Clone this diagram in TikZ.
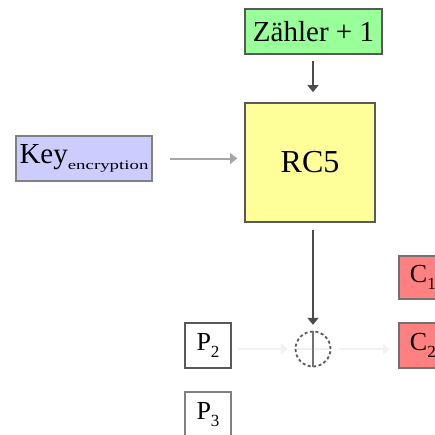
\documentclass[tikz,border=0pt]{standalone}
\usepackage{fontspec}
\setmainfont{Liberation Serif}
\usetikzlibrary{arrows.meta}
\definecolor{zgreen}{HTML}{99FF99}
\definecolor{ryellow}{HTML}{FFFF99}
\definecolor{klav}{HTML}{CCCCFF}
\definecolor{cred}{HTML}{FF8080}
\tikzset{
  box/.style={draw=black!65, line width=1.8pt, rectangle, inner sep=0pt, font=\fontsize{26}{26}\selectfont},
  tip/.style={-{Triangle[width=11pt,length=7pt]}, line width=2pt},
}
\begin{document}
\begin{tikzpicture}[x=1pt,y=-1pt]
\useasboundingbox[fill=white] (0,0) rectangle (435,434);
\node[box, fill=zgreen, minimum width=137pt, minimum height=45pt, font=\fontsize{29}{29}\selectfont] (z) at (313.5,31.5) {Zähler + 1};
\node[box, fill=ryellow, minimum width=130pt, minimum height=119pt, font=\fontsize{32}{32}\selectfont] (rc) at (310,162.5) {RC5};
\node[box, fill=klav, draw=black!50, minimum width=136pt, minimum height=45pt, font=\fontsize{29}{29}\selectfont] (key) at (84,158.5) {Key\raisebox{-6pt}{\scalebox{1.45}[1]{\fontsize{13}{13}\selectfont encryption}}};
\node[box, fill=white, minimum width=46pt, minimum height=45pt] (p2) at (208,345.5) {P\raisebox{-7pt}{\fontsize{17}{17}\selectfont 2}};
\node[box, fill=white, draw=black!50, minimum width=46pt, minimum height=45pt] (p3) at (208,414.5) {P\raisebox{-7pt}{\fontsize{17}{17}\selectfont 3}};
\node[box, fill=cred, draw=black!55, minimum width=46pt, minimum height=43pt, anchor=west] (c1) at (398,277.5) {\hspace*{6pt}C\raisebox{-7pt}{\fontsize{17}{17}\selectfont 1}\hspace*{4pt}};
\node[box, fill=cred, draw=black!55, minimum width=46pt, minimum height=45pt, anchor=west] (c2) at (398,345.5) {\hspace*{6pt}C\raisebox{-7pt}{\fontsize{17}{17}\selectfont 2}\hspace*{4pt}};
\node[circle, minimum size=36pt, inner sep=0pt] (x) at (313,349) {};
\draw[gray!12, line width=2pt] (x.west) -- (x.east);
\draw[black!65, line width=1.8pt, dash pattern=on 3pt off 2.5pt] (x.center) circle (17.5pt);
\draw[black!55, line width=2pt] (x.north) -- (x.south);
\draw[tip, draw=black!70, shorten <=6pt, shorten >=10pt] (z.south -| x.north) -- (rc.north -| x.north);
\draw[tip, draw=black!35, shorten <=17pt, shorten >=7pt] (key.east) -- (key.east -| rc.west);
\draw[tip, draw=black!70, shorten <=7pt, shorten >=6pt] (rc.south -| x.north) -- (x.north);
\draw[tip, draw=black!5, shorten <=6pt, shorten >=7pt] (p2.east |- x.west) -- (x.west);
\draw[tip, draw=black!5, shorten <=8pt, shorten >=8pt] (x.east) -- (x.east -| c2.west);
\end{tikzpicture}
\end{document}
